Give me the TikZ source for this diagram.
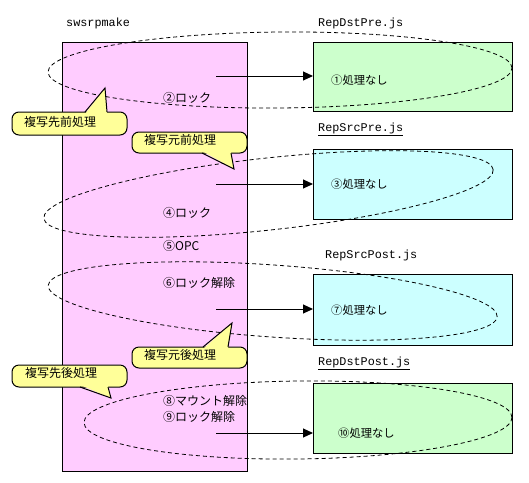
\documentclass[tikz,border=0pt]{standalone}
\usepackage{fontspec}
\setmainfont{Noto Sans CJK JP}
\newfontfamily\monof{Liberation Mono}
\usetikzlibrary{arrows.meta}
\definecolor{pinkfill}{HTML}{FFCCFF}
\definecolor{greenfill}{HTML}{CCFFCC}
\definecolor{cyanfill}{HTML}{CCFFFF}
\definecolor{yellowfill}{HTML}{FFFF99}
\tikzset{
  boxstyle/.style={draw=black, line width=1pt, inner sep=0pt, anchor=north west, minimum width=199pt, minimum height=69pt},
  ell/.style={draw=black, line width=0.8pt, dash pattern=on 4pt off 3pt},
  arr/.style={draw=black, line width=1pt, -{Triangle[length=10pt,width=9pt]}},
  jp/.style={inner sep=0pt, anchor=west, font=\fontsize{12pt}{14pt}\selectfont},
  jps/.style={inner sep=0pt, anchor=west, font=\fontsize{11.3pt}{13pt}\selectfont},
  mono/.style={inner sep=0pt, anchor=west, font=\monof\fontsize{11.8pt}{13pt}\selectfont},
  callbox/.style={fill=yellowfill, draw=black, line width=1pt, rounded corners=7pt},
}
\begin{document}
\begin{tikzpicture}[x=1pt,y=-1pt]
\useasboundingbox (0,0) rectangle (529,482);
% main box
\node[boxstyle, fill=pinkfill, minimum width=185pt, minimum height=429pt] (main) at (62,42) {};
% right boxes
\node[boxstyle, fill=greenfill] (b1) at (313,42) {};
\node[boxstyle, fill=cyanfill, minimum height=70pt] (b2) at (313,149) {};
\node[boxstyle, fill=cyanfill, minimum height=71pt] (b3) at (313,274) {};
\node[boxstyle, fill=greenfill, minimum height=70pt] (b4) at (313,383) {};
% dashed ellipses
\draw[ell, rotate around={0.5:(280,70)}] (280,70) ellipse [x radius=232pt, y radius=38pt];
\draw[ell, rotate around={6.2:(268.5,194)}] (268.5,194) ellipse [x radius=226pt, y radius=36pt];
\draw[ell, rotate around={-4:(272.7,301)}] (272.7,301) ellipse [x radius=225pt, y radius=36pt];
\draw[ell, rotate around={0.7:(298,420)}] (298,420) ellipse [x radius=214pt, y radius=39pt];
% arrows
\coordinate (s1) at (216,76);
\coordinate (s2) at (216,184);
\coordinate (s3) at (216,309);
\coordinate (s4) at (216,433);
\draw[arr] (s1) -- (s1 -| b1.west);
\draw[arr] (s2) -- (s2 -| b2.west);
\draw[arr] (s3) -- (s3 -| b3.west);
\draw[arr] (s4) -- (s4 -| b4.west);
% callouts
\draw[callbox] (12,112) rectangle (127,135);
\fill[yellowfill] (85,114) -- (105,88) -- (107,114) -- cycle;
\draw[line width=1pt] (85,112) -- (105,88) -- (107,112);
\draw[callbox] (132,132) rectangle (247,153);
\fill[yellowfill] (202,151) -- (234,169) -- (231,151) -- cycle;
\draw[line width=1pt] (202,153) -- (234,169) -- (231,153);
\draw[callbox] (132,347) rectangle (247,368);
\fill[yellowfill] (203,349) -- (232,323) -- (228,349) -- cycle;
\draw[line width=1pt] (203,347) -- (232,323) -- (228,347);
\draw[callbox] (12,365) rectangle (127,387);
\fill[yellowfill] (80,385) -- (111,398) -- (108,385) -- cycle;
\draw[line width=1pt] (80,387) -- (111,398) -- (108,387);
\node[jp] (c1) at (24,122) {複写先前処理};
\node[jp] (c2) at (144,139.5) {複写元前処理};
\node[jp] (c3) at (144,355) {複写元後処理};
\node[jp] (c4) at (25,372.5) {複写先後処理};
% titles
\node[mono] (t0) at (66,23) {swsrpmake};
\node[mono] (t1) at (318,23) {RepDstPre.js};
\node[mono] (t2) at (318,129) {\underline{RepSrcPre.js}};
\node[mono] (t3) at (325,255) {RepSrcPost.js};
\node[mono] (t4) at (318,363) {\underline{RepDstPost.js}};
% pink labels
\node[jp] (l2) at (163,98) {②ロック};
\node[jp] (l4) at (163,212.5) {④ロック};
\node[jp] (l5) at (163,246) {⑤OPC};
\node[jp] (l6) at (163,282.5) {⑥ロック解除};
\node[jp] (l8) at (163,401) {⑧マウント解除};
\node[jp] (l9) at (163,416.5) {⑨ロック解除};
% box labels
\node[jps] (r1) at (331,80) {①処理なし};
\node[jps] (r3) at (331,184) {③処理なし};
\node[jps] (r7) at (331,310) {⑦処理なし};
\node[jps] (r10) at (338,433) {⑩処理なし};
\end{tikzpicture}
\end{document}
